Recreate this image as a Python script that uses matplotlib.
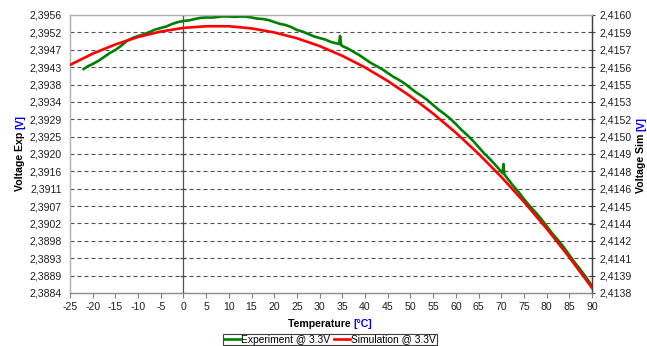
import matplotlib.pyplot as plt
import numpy as np

plt.rcParams['font.family'] = ['Liberation Sans', 'DejaVu Sans']

# measured output voltage vs temperature (left axis)
temp_exp = [-22, -21, -20, -18.75, -17.5, -16.25, -15, -13.75, -12.5, -11.25, -10,
            -8.75, -7.5, -6.25, -5, -3.75, -2.5, -1.25, 0, 1.25, 2.5, 3.75, 5,
            6.25, 7.5, 8.75, 10, 11.25, 12.5, 13.75, 15, 16.25, 17.5, 18.75, 20,
            21.25, 22.5, 23.75, 25, 26.25, 27.5, 28.75, 30, 31.25, 32.5, 33.5,
            34.3, 34.5, 34.7, 35, 36.25, 37.5, 38.75, 40, 41.25, 42.5, 43.75, 45,
            46.25, 47.5, 48.75, 50, 51.25, 52.5, 53.75, 55, 56.25, 57.5, 58.75,
            60, 61.25, 62.5, 63.75, 65, 66.25, 67.5, 68.75, 70.3, 70.5, 70.7,
            72.5, 73.75, 75, 76.25, 77.5, 78.75, 80, 81.25, 82.5, 83.75, 85,
            86.25, 87.5, 88.75, 90]
volt_exp = [2.394201, 2.394276, 2.394331, 2.394412, 2.394512, 2.394613, 2.394694,
            2.394801, 2.394927, 2.395002, 2.395056, 2.395098, 2.395160, 2.395222,
            2.395263, 2.395305, 2.395367, 2.395416, 2.395445, 2.395461, 2.395496,
            2.395526, 2.395535, 2.395532, 2.395548, 2.395565, 2.395561, 2.395551,
            2.395561, 2.395558, 2.395535, 2.395506, 2.395496, 2.395468, 2.395419,
            2.395370, 2.395341, 2.395287, 2.395212, 2.395170, 2.395108, 2.395046,
            2.395004, 2.394963, 2.394901, 2.394870, 2.394849, 2.395056, 2.394830,
            2.394797, 2.394730, 2.394642, 2.394561, 2.394460, 2.394360, 2.394279,
            2.394199, 2.394098, 2.393998, 2.393917, 2.393823, 2.393709, 2.393596,
            2.393502, 2.393396, 2.393269, 2.393143, 2.393036, 2.392917, 2.392777,
            2.392625, 2.392492, 2.392347, 2.392181, 2.392016, 2.391871, 2.391713,
            2.391500, 2.391741, 2.391470, 2.391197, 2.391026, 2.390835, 2.390657,
            2.390498, 2.390327, 2.390135, 2.389944, 2.389773, 2.389589, 2.389384,
            2.389180, 2.388996, 2.388799, 2.388581]

# simulated output voltage (right axis)
temp_sim = [-25, -20, -15, -10, -5, 0, 5, 10, 15, 20, 25, 30, 35, 40, 45, 50,
            55, 60, 65, 70, 75, 80, 85, 90]
volt_sim = [2.415605, 2.415694, 2.415767, 2.415826, 2.415869, 2.415898, 2.415911,
            2.415911, 2.415894, 2.415862, 2.415816, 2.415754, 2.415677, 2.415585,
            2.415478, 2.415357, 2.415220, 2.415069, 2.414902, 2.414720, 2.414522,
            2.414310, 2.414083, 2.413841]

exp_labels = ['2,3884', '2,3889', '2,3893', '2,3898', '2,3902', '2,3907', '2,3911',
              '2,3916', '2,3920', '2,3925', '2,3929', '2,3934', '2,3938', '2,3943',
              '2,3947', '2,3952', '2,3956']
sim_labels = ['2,4138', '2,4139', '2,4141', '2,4142', '2,4144', '2,4145', '2,4146',
              '2,4148', '2,4149', '2,4150', '2,4152', '2,4153', '2,4155', '2,4156',
              '2,4157', '2,4159', '2,4160']
temp_ticks = list(range(-25, 95, 5))

exp_lim = (2.3884, 2.3956)
sim_lim = (2.4138, 2.4160)
exp_ticks = np.linspace(exp_lim[0], exp_lim[1], len(exp_labels))
sim_ticks = np.linspace(sim_lim[0], sim_lim[1], len(sim_labels))

W, H = 647, 346
FS = 7.6
fig = plt.figure(figsize=(W / 100, H / 100), dpi=100)
ax = fig.add_axes([70 / W, 1 - 293 / H, 522 / W, 278 / H])
ax2 = ax.twinx()

ax.set_xlim(-25, 90)
ax.set_ylim(*exp_lim)
ax2.set_ylim(*sim_lim)

# dashed horizontal grid on interior ticks
for y in exp_ticks[1:-1]:
    ax.axhline(y, color='#505050', lw=0.8, dashes=(3.6, 2.7), zorder=1)
ax.axvline(0, color='#505050', lw=0.9, zorder=1)
ax.plot([0] * len(exp_ticks), exp_ticks, marker='_', ms=5, mew=0.9,
        ls='none', color='#505050', zorder=1)

l1, = ax.plot(temp_exp, volt_exp, color='#008000', lw=1.9, zorder=3,
              label='Experiment @ 3.3V')
l2, = ax2.plot(temp_sim, volt_sim, color='#ff0000', lw=1.9, zorder=3,
               label='Simulation @ 3.3V')

ax.set_xticks(temp_ticks)
ax.set_xticklabels([str(t) for t in temp_ticks])
ax.set_yticks(exp_ticks)
ax.set_yticklabels(exp_labels)
ax2.set_yticks(sim_ticks)
ax2.set_yticklabels(sim_labels)

ax.tick_params(axis='x', direction='out', length=3.5, width=0.8, color='#808080',
               pad=3, labelsize=FS, labelcolor='#202020')
ax.tick_params(axis='y', length=0, pad=6, labelsize=FS, labelcolor='#202020')
ax2.tick_params(axis='y', direction='inout', length=5, width=0.8, color='#404040',
                pad=3, labelsize=FS, labelcolor='#202020')

for a in (ax, ax2):
    a.spines['top'].set_color('#b0b0b0')
    a.spines['left'].set_color('#b0b0b0')
    a.spines['bottom'].set_color('#909090')
    a.spines['right'].set_color('#404040')
    for s in a.spines.values():
        s.set_linewidth(0.9)

# axis titles with blue unit
t = fig.text(288 / W, 1 - 329 / H, 'Temperature ', fontsize=FS,
             fontweight='bold', ha='left', va='bottom')
ax.annotate('[°C]', xy=(1, 0), xycoords=t, ha='left', va='bottom',
            fontsize=FS, fontweight='bold', color='#0000ff')

tl = fig.text(20 / W, 1 - 191 / H, 'Voltage Exp ', fontsize=FS, fontweight='bold',
              rotation=90, ha='center', va='bottom')
ax.annotate('[V]', xy=(0.5, 1), xycoords=tl, ha='center', va='bottom', rotation=90,
            fontsize=FS, fontweight='bold', color='#0000ff')

tr = fig.text(641 / W, 1 - 193 / H, 'Voltage Sim ', fontsize=FS, fontweight='bold',
              rotation=90, ha='center', va='bottom')
ax.annotate('[V]', xy=(0.5, 1), xycoords=tr, ha='center', va='bottom', rotation=90,
            fontsize=FS, fontweight='bold', color='#0000ff')

leg = fig.legend(handles=[l1, l2], loc='upper center', ncol=2,
                 bbox_to_anchor=(330 / W, 1 - 334 / H), fontsize=7.4,
                 frameon=True, fancybox=False, framealpha=1, edgecolor='#404040',
                 handlelength=1.6, handletextpad=0.1, columnspacing=0.3,
                 borderpad=0.05, borderaxespad=0)
leg.get_frame().set_linewidth(0.8)

fig.savefig('out.png', dpi=100)
